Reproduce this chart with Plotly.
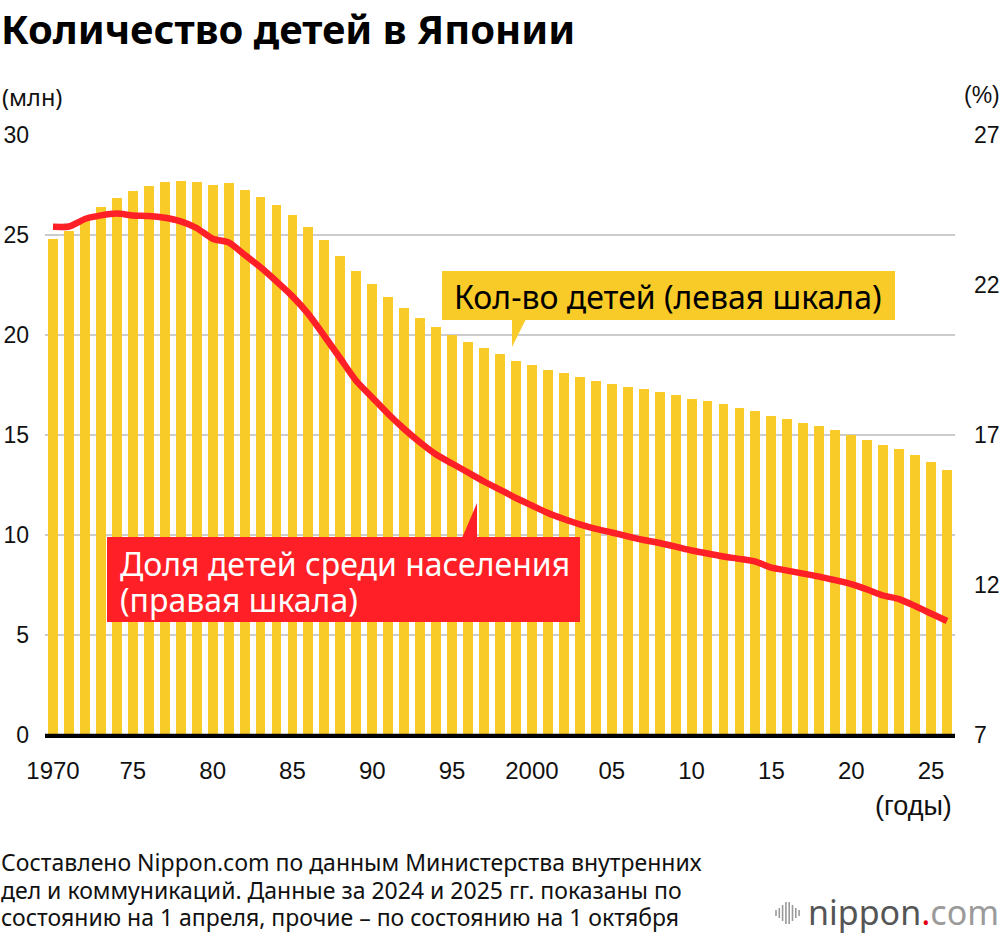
import plotly.graph_objects as go

# ---------------- data ----------------
years = list(range(1970, 2027))
children_mln = [
    24.8, 25.2, 25.7, 26.4, 26.85, 27.21, 27.46, 27.65, 27.7, 27.67,
    27.52, 27.6, 27.25, 26.9, 26.5, 26.02, 25.42, 24.75, 23.97, 23.18,
    22.53, 21.9, 21.35, 20.83, 20.4, 20.01, 19.66, 19.35, 19.05, 18.71,
    18.5, 18.26, 18.08, 17.9, 17.71, 17.56, 17.41, 17.28, 17.17, 17.0,
    16.82, 16.7, 16.53, 16.37, 16.22, 15.93, 15.8, 15.62, 15.45, 15.25,
    15.0, 14.77, 14.48, 14.32, 14.0, 13.63, 13.27,
]
share_pct = [
    23.94, 23.95, 24.2, 24.32, 24.38, 24.32, 24.3, 24.24, 24.12, 23.9,
    23.54, 23.42, 23.01, 22.59, 22.12, 21.62, 21.03, 20.3, 19.55, 18.8,
    18.25, 17.7, 17.2, 16.75, 16.35, 16.05, 15.75, 15.45, 15.18, 14.9,
    14.65, 14.4, 14.2, 14.02, 13.87, 13.75, 13.62, 13.5, 13.4, 13.28,
    13.15, 13.05, 12.95, 12.87, 12.78, 12.58, 12.48, 12.38, 12.28, 12.16,
    12.03, 11.85, 11.65, 11.53, 11.3, 11.05, 10.8,
]
tick_years = [1970, 1975, 1980, 1985, 1990, 1995, 2000, 2005, 2010, 2015, 2020, 2025]
tick_text = ["1970", "75", "80", "85", "90", "95", "2000", "05", "10", "15", "20", "25"]
left_ticks = [0, 5, 10, 15, 20, 25, 30]
right_ticks = [7, 12, 17, 22, 27]

# ---------------- style ----------------
YELLOW = "#F9CB28"
RED = "#FF1F27"
W, H = 1000, 936
L, R, T, B = 45, 955, 135, 735  # plot area in pixels

def px(x):
    return (x - L) / (R - L)

def py(y):
    return (B - y) / (B - T)

fig = go.Figure()
fig.add_trace(go.Bar(x=years, y=children_mln, marker=dict(color=YELLOW, line=dict(width=0)),
                     width=0.62, yaxis="y", hoverinfo="skip"))
fig.add_trace(go.Scatter(x=years, y=share_pct, mode="lines", yaxis="y2",
                         line=dict(color=RED, width=6.5, shape="spline", smoothing=0.6),
                         hoverinfo="skip"))

TICKFONT = dict(family="Liberation Sans, Arial, sans-serif", size=23, color="#111")
TXT = "Noto Sans, Open Sans, sans-serif"

fig.update_layout(
    width=W, height=H,
    margin=dict(l=L, r=W - R, t=T, b=H - B, autoexpand=False),
    plot_bgcolor="white", paper_bgcolor="white",
    showlegend=False,
    bargap=0,
    xaxis=dict(range=[1969.5, 2026.5], tickvals=tick_years, ticktext=tick_text,
               showgrid=False, zeroline=False, showline=True, linecolor="#000", linewidth=2.5,
               ticks="", tickfont=dict(TICKFONT, size=24), ticklabelstandoff=12,
               automargin=False),
    yaxis=dict(range=[0, 30], tickvals=left_ticks, showgrid=True, gridcolor="#cccccc",
               gridwidth=1.5, zeroline=False, showline=False, ticks="",
               tickfont=TICKFONT, ticklabelstandoff=15, automargin=False),
    yaxis2=dict(range=[7, 27], tickvals=right_ticks, overlaying="y", side="right",
                showgrid=False, zeroline=False, showline=False, ticks="",
                tickfont=TICKFONT, ticklabelstandoff=18, automargin=False),
)

shapes = []
# baseline redraw on top of bars
shapes.append(dict(type="line", xref="paper", yref="paper", x0=0, x1=1, y0=0, y1=0,
                   line=dict(color="#000", width=2.5), layer="above"))
# yellow callout
shapes.append(dict(type="rect", xref="paper", yref="paper", x0=px(442), x1=px(895),
                   y0=py(320), y1=py(271), fillcolor=YELLOW, line=dict(width=0), layer="above"))
shapes.append(dict(type="path", xref="paper", yref="paper",
                   path=f"M {px(512)} {py(319)} L {px(526)} {py(319)} L {px(512)} {py(347)} Z",
                   fillcolor=YELLOW, line=dict(width=0), layer="above"))
# red callout
shapes.append(dict(type="rect", xref="paper", yref="paper", x0=px(107), x1=px(580),
                   y0=py(622), y1=py(537), fillcolor=RED, line=dict(width=0), layer="above"))
shapes.append(dict(type="path", xref="paper", yref="paper",
                   path=f"M {px(462)} {py(538)} L {px(477)} {py(538)} L {px(477)} {py(503)} Z",
                   fillcolor=RED, line=dict(width=0), layer="above"))
# logo icon (vertical bars)
icon_h = [6, 10, 16, 22, 22, 16, 10, 6]
for i, h in enumerate(icon_h):
    xx = 776 + i * 3.3
    shapes.append(dict(type="line", xref="paper", yref="paper", x0=px(xx), x1=px(xx),
                       y0=py(913 - h / 2), y1=py(913 + h / 2),
                       line=dict(color="#9a9a9a", width=1.6), layer="above"))
fig.update_layout(shapes=shapes)

ann = []
def text(x, y, s, size, color="#111", family=TXT, xanchor="left", yanchor="middle", bold=False):
    if bold:
        s = f"<b>{s}</b>"
    ann.append(dict(x=px(x), y=py(y), xref="paper", yref="paper", text=s, showarrow=False,
                    xanchor=xanchor, yanchor=yanchor, align="left", borderpad=0,
                    font=dict(family=family, size=size, color=color)))

text(0, 28, "Количество детей в Японии", 40, color="#000", bold=True)
text(1, 97, "(млн)", 23.5)
text(1001, 95, "(%)", 23, family="Liberation Sans, Arial, sans-serif", xanchor="right")
text(953, 806, "(годы)", 27, family="Liberation Sans, Arial, sans-serif", xanchor="right")
text(453, 296, "Кол-во детей (левая шкала)", 32, color="#000")
text(119, 563, "Доля детей среди населения", 32, color="#fff")
text(119, 599, "(правая шкала)", 32, color="#fff")
foot = [
    "Составлено Nippon.com по данным Министерства внутренних",
    "дел и коммуникаций. Данные за 2024 и 2025 гг. показаны по",
    "состоянию на 1 апреля, прочие – по состоянию на 1 октября",
]
for i, line in enumerate(foot):
    text(0, 862 + i * 27.5, line, 23, color="#111")
ann.append(dict(x=px(806), y=py(912), xref="paper", yref="paper", showarrow=False,
                xanchor="left", yanchor="middle",
                text="<span style='color:#555'>nippon</span><span style='color:#e60012'>.</span>"
                     "<span style='color:#9a9a9a'>com</span>",
                font=dict(family=TXT, size=34)))
fig.update_layout(annotations=ann)

fig.write_html("out.html")
